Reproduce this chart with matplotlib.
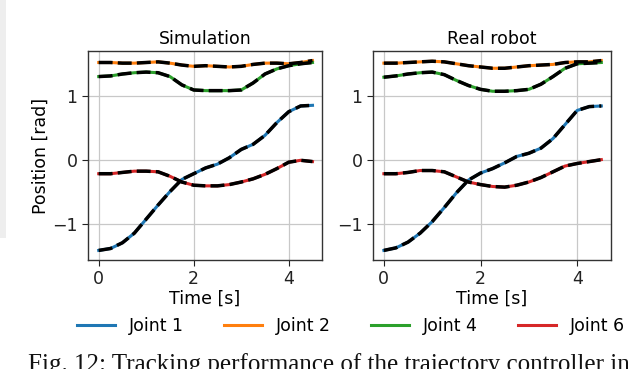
import matplotlib
matplotlib.use("Agg")
import matplotlib.pyplot as plt
from matplotlib.patches import Rectangle

# ---- data ----
time_s = [0, 0.25, 0.5, 0.75, 1.0, 1.25, 1.5, 1.75, 2.0, 2.25, 2.5, 2.75,
          3.0, 3.25, 3.5, 3.75, 4.0, 4.25, 4.5]

titles = ["Simulation", "Real robot"]
joint_names = ["Joint 1", "Joint 2", "Joint 4", "Joint 6"]
joint_colors = ["#1f77b4", "#ff7f0e", "#2ca02c", "#d62728"]

sim_j1 = [-1.42, -1.39, -1.30, -1.15, -0.93, -0.71, -0.50, -0.31, -0.22, -0.13, -0.07, 0.03,
          0.16, 0.24, 0.38, 0.58, 0.75, 0.84, 0.85]
sim_j2 = [1.52, 1.52, 1.51, 1.51, 1.52, 1.53, 1.51, 1.48, 1.46, 1.47, 1.46, 1.45,
          1.46, 1.49, 1.51, 1.51, 1.50, 1.52, 1.55]
sim_j4 = [1.30, 1.31, 1.34, 1.36, 1.37, 1.36, 1.30, 1.17, 1.09, 1.08, 1.08, 1.08,
          1.09, 1.20, 1.34, 1.42, 1.47, 1.50, 1.52]
sim_j6 = [-0.22, -0.22, -0.20, -0.18, -0.18, -0.19, -0.26, -0.35, -0.40, -0.41, -0.41, -0.39,
          -0.35, -0.30, -0.23, -0.14, -0.04, -0.01, -0.03]

real_j1 = [-1.42, -1.38, -1.29, -1.15, -0.97, -0.75, -0.52, -0.32, -0.21, -0.14, -0.05, 0.05,
           0.10, 0.18, 0.33, 0.55, 0.77, 0.83, 0.84]
real_j2 = [1.51, 1.51, 1.52, 1.53, 1.54, 1.53, 1.50, 1.47, 1.45, 1.43, 1.43, 1.45,
           1.47, 1.48, 1.49, 1.52, 1.53, 1.53, 1.55]
real_j4 = [1.29, 1.31, 1.34, 1.36, 1.37, 1.33, 1.24, 1.16, 1.10, 1.07, 1.07, 1.08,
           1.10, 1.18, 1.30, 1.43, 1.50, 1.51, 1.52]
real_j6 = [-0.22, -0.22, -0.20, -0.17, -0.17, -0.19, -0.27, -0.35, -0.39, -0.42, -0.43, -0.40,
           -0.35, -0.28, -0.19, -0.10, -0.06, -0.03, 0.00]

panels = [[sim_j1, sim_j2, sim_j4, sim_j6], [real_j1, real_j2, real_j4, real_j6]]

caption = "Fig. 12: Tracking performance of the trajectory controller in"

# ---- plot ----
plt.rcParams['font.family'] = ['DejaVu Sans']
plt.rcParams['font.size'] = 12.5

fig = plt.figure(figsize=(6.4, 3.69), dpi=100)
fig.patches.append(Rectangle((0, 1 - 238/369), 6/640, 238/369, transform=fig.transFigure,
                             facecolor="#eeeeee", edgecolor="none", zorder=0))

axes_pos = [[88/640, 1 - 260/369, 234/640, 209/369],
            [373/640, 1 - 260/369, 238/640, 209/369]]

handles = []
for k, (pos, title, series) in enumerate(zip(axes_pos, titles, panels)):
    ax = fig.add_axes(pos)
    for vals, col, name in zip(series, joint_colors, joint_names):
        h, = ax.plot(time_s, vals, color=col, lw=2.2, label=name, zorder=2)
        ax.plot(time_s, vals, color="black", lw=2.5, ls=(0, (4, 1.5)), zorder=3)
        if k == 0:
            handles.append(h)
    ax.set_title(title, fontsize=12.5, pad=5)
    ax.set_xlim(-0.225, 4.7)
    ax.set_ylim(-1.57, 1.70)
    ax.set_xticks([0, 2, 4])
    ax.set_yticks([-1, 0, 1])
    ax.grid(True, color="#c8c8c8", lw=0.9)
    ax.set_axisbelow(True)
    ax.set_xlabel("Time [s]", labelpad=1)
    for s in ax.spines.values():
        s.set_color("#333333")
        s.set_linewidth(1.0)
    ax.tick_params(colors="#222222", length=4)
    if k == 0:
        ax.set_ylabel("Position [rad]", labelpad=2)

fig.legend(handles=handles, labels=joint_names, loc="center", ncol=4,
           bbox_to_anchor=(351/640, 1 - 326/369), frameon=False,
           handlelength=2.2, columnspacing=2.3, handletextpad=0.8)

fig.text(28/640, 1 - 353/369, caption, family=["Liberation Serif"], fontsize=18,
         va="top", ha="left", color="#111111")

fig.savefig("out.png", dpi=100)
